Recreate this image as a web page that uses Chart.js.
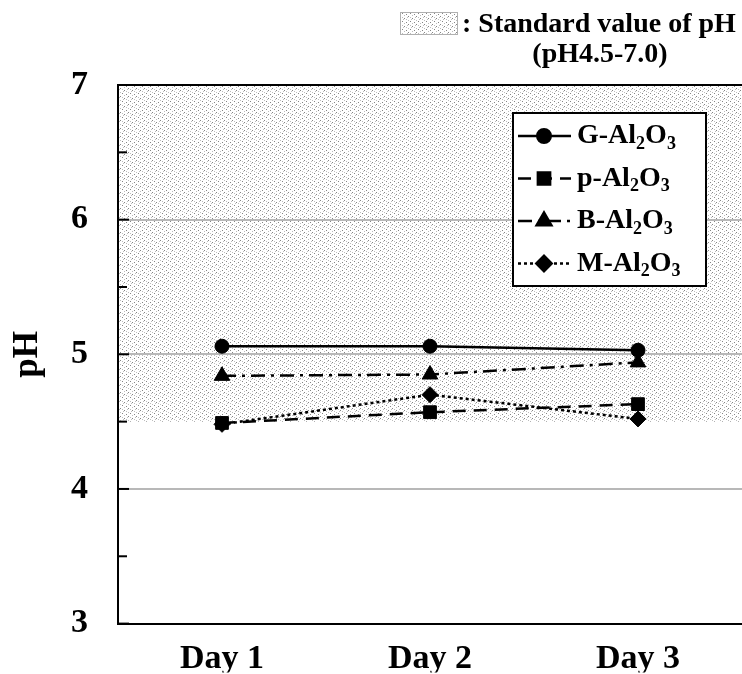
<!DOCTYPE html>
<html>
<head>
<meta charset="utf-8">
<script src="https://cdn.jsdelivr.net/npm/chart.js@4.4.1/dist/chart.umd.min.js"></script>
<style>
	html, body { margin: 0; padding: 0; background: #fff; overflow: hidden; }
	canvas { display: block; }
</style>
</head>
<body>
<canvas id="chart" width="742" height="674"></canvas>
<script>
const days = ["Day 1", "Day 2", "Day 3"];
const gAl = [5.06, 5.06, 5.03];
const pAl = [4.49, 4.57, 4.63];
const bAl = [4.84, 4.85, 4.94];
const mAl = [4.48, 4.70, 4.52];
const seriesPrefix = ["G", "p", "B", "M"];
const yTicks = [3, 4, 5, 6, 7];
const gridValues = [4, 5, 6];
const standardRange = [4.5, 7.0];

const serif = "'Liberation Serif', 'Times New Roman', serif";

// stipple pattern for the standard range
function makePattern(ctx) {
	const tile = document.createElement("canvas");
	tile.width = 8;
	tile.height = 8;
	const t = tile.getContext("2d");
	t.fillStyle = "#fff";
	t.fillRect(0, 0, 8, 8);
	const dark = [[0, 0], [4, 2], [2, 5], [6, 6]];
	const light = [[2, 1], [6, 3], [0, 4], [4, 7], [7, 1], [3, 3]];
	t.fillStyle = "#858585";
	dark.forEach(p => t.fillRect(p[0], p[1], 1, 1));
	t.fillStyle = "#bdbdbd";
	light.forEach(p => t.fillRect(p[0], p[1], 1, 1));
	return ctx.createPattern(tile, "repeat");
}

function drawSubLabel(ctx, prefix, x, y) {
	const big = "bold 28px " + serif;
	const small = "bold 18px " + serif;
	ctx.textBaseline = "middle";
	ctx.textAlign = "left";
	const parts = [[prefix + "-Al", big, 0], ["2", small, 8], ["O", big, 0], ["3", small, 8]];
	parts.forEach(p => {
		ctx.font = p[1];
		ctx.fillText(p[0], x, y + p[2]);
		x += ctx.measureText(p[0]).width;
	});
}

const rangePlugin = {
	id: "range",
	beforeDraw(chart) {
		const { ctx, chartArea, scales } = chart;
		const top = scales.y.getPixelForValue(standardRange[1]);
		const bot = scales.y.getPixelForValue(standardRange[0]);
		ctx.save();
		ctx.fillStyle = makePattern(ctx);
		ctx.fillRect(chartArea.left, top, chartArea.right - chartArea.left, bot - top);
		ctx.restore();
	},
	afterDraw(chart) {
		const { ctx, chartArea, scales } = chart;
		const y = scales.y;
		ctx.save();
		ctx.strokeStyle = "#000";
		ctx.lineWidth = 2;
		// top frame line
		ctx.beginPath();
		ctx.moveTo(chartArea.left, chartArea.top);
		ctx.lineTo(chartArea.right, chartArea.top);
		ctx.stroke();
		// inward ticks, major and minor
		for (let v = y.min; v <= y.max; v += 0.5) {
			const py = y.getPixelForValue(v);
			const len = Number.isInteger(v) ? 11 : 9;
			ctx.beginPath();
			ctx.moveTo(chartArea.left, py);
			ctx.lineTo(chartArea.left + len, py);
			ctx.stroke();
		}

		// series legend
		const bx = 513, by = 113, bw = 193, bh = 173;
		ctx.fillStyle = "#fff";
		ctx.fillRect(bx, by, bw, bh);
		ctx.strokeRect(bx, by, bw, bh);
		chart.data.datasets.forEach((ds, i) => {
			const ry = 136 + i * 42.5;
			ctx.save();
			ctx.strokeStyle = "#000";
			ctx.lineWidth = ds.borderWidth;
			ctx.setLineDash(ds.borderDash || []);
			ctx.beginPath();
			ctx.moveTo(518, ry);
			ctx.lineTo(571, ry);
			ctx.stroke();
			ctx.restore();
			ctx.fillStyle = "#000";
			Chart.helpers.drawPoint(ctx, {
				pointStyle: ds.pointStyle,
				radius: ds.pointRadius,
				rotation: 0,
				borderWidth: 1
			}, 544, ry);
			ctx.fillStyle = "#000";
			drawSubLabel(ctx, seriesPrefix[i], 577, ry);
		});

		// standard range key at the top
		ctx.fillStyle = makePattern(ctx);
		ctx.fillRect(400, 12, 58, 23);
		ctx.strokeStyle = "#b0b0b0";
		ctx.lineWidth = 1;
		ctx.strokeRect(400.5, 12.5, 57, 22);
		ctx.fillStyle = "#000";
		ctx.font = "bold 28px " + serif;
		ctx.textAlign = "left";
		ctx.textBaseline = "middle";
		ctx.fillText(": Standard value of pH", 462, 25);
		ctx.textAlign = "center";
		ctx.fillText("(pH" + standardRange[0].toFixed(1) + "-" + standardRange[1].toFixed(1) + ")", 600, 55);
		ctx.restore();
	}
};

const lineStyle = (label, data, dash, style, radius) => ({
	label: label,
	data: data,
	borderColor: "#000",
	backgroundColor: "#000",
	borderWidth: 2.5,
	borderDash: dash,
	pointStyle: style,
	pointRadius: radius,
	pointBorderWidth: 1,
	pointBackgroundColor: "#000",
	pointBorderColor: "#000",
	tension: 0,
	fill: false
});

new Chart(document.getElementById("chart"), {
	type: "line",
	data: {
		labels: days,
		datasets: [
			lineStyle("G-Al₂O₃", gAl, [], "circle", 7),
			lineStyle("p-Al₂O₃", pAl, [13, 8], "rect", 9),
			lineStyle("B-Al₂O₃", bAl, [14, 6, 3, 6], "triangle", 9),
			lineStyle("M-Al₂O₃", mAl, [3, 3], "rectRot", 8)
		]
	},
	options: {
		responsive: false,
		animation: false,
		layout: {
			autoPadding: false,
			padding: { top: 85, right: 0, left: 0, bottom: 0 }
		},
		plugins: {
			legend: { display: false },
			tooltip: { enabled: false }
		},
		scales: {
			x: {
				offset: true,
				grid: { display: false, drawTicks: false },
				border: { display: true, color: "#000", width: 2 },
				ticks: {
					color: "#000",
					padding: 15,
					font: { family: serif, size: 34, weight: "bold" }
				},
				afterFit(scale) {
					scale.height = 49;
					scale.paddingLeft = 0;
					scale.paddingRight = 0;
				}
			},
			y: {
				min: yTicks[0],
				max: yTicks[yTicks.length - 1],
				afterBuildTicks(scale) {
					scale.ticks = yTicks.map(v => ({ value: v }));
				},
				grid: {
					drawTicks: false,
					lineWidth: 2,
					color: c => gridValues.includes(c.tick && c.tick.value) ? "#b8b8b8" : "rgba(0,0,0,0)"
				},
				border: { display: true, color: "#000", width: 2 },
				ticks: {
					color: "#000",
					padding: 30,
					font: { family: serif, size: 34, weight: "bold" }
				},
				title: {
					display: true,
					text: "pH",
					color: "#000",
					padding: { top: 7, bottom: 0 },
					font: { family: serif, size: 35, weight: "bold" }
				},
				afterFit(scale) { scale.width = 118; }
			}
		}
	},
	plugins: [rangePlugin]
});
</script>
</body>
</html>
